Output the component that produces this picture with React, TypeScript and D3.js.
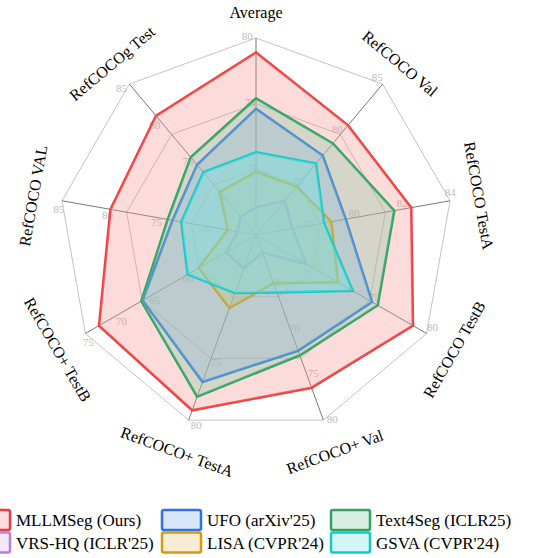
import * as d3 from 'd3'

const W = 548
const H = 558
const CX = 256
const CY = 235
const R = 197

const AXES = ['Average', 'RefCOCO Val', 'RefCOCO TestA', 'RefCOCO TestB', 'RefCOCO+ Val', 'RefCOCO+ TestA', 'RefCOCO+ TestB', 'RefCOCO VAL', 'RefCOCOg Test']
const AXIS_MIN = [65, 70, 76, 65, 60, 65, 50, 65, 65]
const AXIS_MAX = [80, 85, 84, 80, 80, 80, 75, 85, 85]
const AXIS_TICKS = [
  [70, 75, 80],
  [75, 80, 85],
  [78, 80, 82, 84],
  [70, 75, 80],
  [65, 70, 75, 80],
  [70, 75, 80],
  [55, 60, 65, 70, 75],
  [70, 75, 80, 85],
  [70, 75, 80, 85],
]

// plotting order (legend is filled column by column)
const SERIES = ['MLLMSeg (Ours)', "VRS-HQ (ICLR'25)", "UFO (arXiv'25)", "LISA (CVPR'24)", 'Text4Seg (ICLR25)', "GSVA (CVPR'24)"]
const COLORS = ['#F03C3C', '#B57FE6', '#2F74DE', '#D49A12', '#2FA362', '#15C8C8']
const FILL_ALPHA = [0.32, 0.32, 0.32, 0.32, 0.32, 0.45]

const MLLMSEG = [78.9, 80.9, 82.4, 78.8, 76.5, 79.2, 73.0, 80.0, 80.8]
const VRSHQ = [67.1, 73.4, 77.5, 69.4, 61.9, 67.7, 54.4, 66.9, 67.4]
const UFO = [74.6, 77.9, 79.7, 75.2, 72.5, 76.9, 66.6, 73.6, 74.3]
const LISA = [69.8, 74.8, 79.1, 72.2, 65.2, 70.9, 58.4, 67.9, 70.7]
const TEXT4SEG = [75.4, 79.1, 81.7, 75.7, 73.0, 78.1, 66.8, 74.1, 75.3]
const GSVA = [71.3, 77.1, 78.8, 73.5, 66.2, 69.7, 60.0, 72.7, 73.3]
const VALUES = [MLLMSEG, VRSHQ, UFO, LISA, TEXT4SEG, GSVA]

// legend rows as shown (indices into SERIES)
const LEGEND_ROWS = [[0, 2, 4], [1, 3, 5]]
const LEGEND_COL_X = [-29, 162, 331]

const FONT = '"Liberation Serif", "Times New Roman", serif'

export default function App() {
  const n = AXES.length
  const step = (2 * Math.PI) / n
  const scales = AXES.map((_, i) => d3.scaleLinear().domain([AXIS_MIN[i], AXIS_MAX[i]]).range([0, R]))
  const pastel = COLORS.map((c) => d3.interpolateRgb(c, '#ffffff')(0.42))

  const ring = d3.lineRadial<number>()
    .angle((_, i) => i * step)
    .radius((r) => r)
    .curve(d3.curveLinearClosed)

  const shape = d3.lineRadial<number>()
    .angle((_, i) => i * step)
    .radius((v, i) => scales[i](v))
    .curve(d3.curveLinearClosed)

  const pt = (a: number, r: number) => [r * Math.sin(a), -r * Math.cos(a)]

  return (
    <svg width={W} height={H} style={{ position: 'absolute', left: 0, top: 0, background: '#fff' }} fontFamily={FONT}>
      <g transform={`translate(${CX},${CY})`}>
        {/* grid rings */}
        {[1 / 3, 2 / 3, 1].map((k) => (
          <path key={k} d={ring(AXES.map(() => k * R)) ?? ''} fill="none" stroke="#c4c4c4" strokeWidth={1} />
        ))}
        {/* spokes */}
        {AXES.map((_, i) => {
          const [x, y] = pt(i * step, R)
          return <line key={i} x1={0} y1={0} x2={x} y2={y} stroke="#7a7a7a" strokeWidth={1} />
        })}
        {/* tick labels */}
        {AXES.map((_, i) =>
          AXIS_TICKS[i].map((t) => {
            const a = i * step - (2.5 * Math.PI) / 180
            const [x, y] = pt(a, scales[i](t) + 2)
            return (
              <text key={`${i}-${t}`} x={x} y={y} fontSize={11} fill="#bcbcbc" textAnchor="middle" dominantBaseline="central">
                {t}
              </text>
            )
          })
        )}
        {/* series: outline first, then its translucent fill over it */}
        {VALUES.map((vals, s) => (
          <g key={s}>
            <path d={shape(vals) ?? ''} fill="none" stroke={COLORS[s]} strokeWidth={2.6} />
            <path d={shape(vals) ?? ''} fill={pastel[s]} fillOpacity={FILL_ALPHA[s]} stroke="none" />
          </g>
        ))}
        {/* axis labels */}
        {AXES.map((label, i) => {
          const deg = (i * 360) / n
          const a = i * step
          const r = 227 - 4 * Math.cos(a)
          const [x, y] = pt(a, r)
          let rot = deg
          if (deg > 90 && deg < 270) rot = deg - 180
          else if (deg >= 270) rot = deg - 360
          return (
            <text
              key={label}
              transform={`translate(${x},${y}) rotate(${rot})`}
              fontSize={16}
              fill="#000"
              textAnchor="middle"
              dominantBaseline="central"
            >
              {label}
            </text>
          )
        })}
      </g>
      {/* legend */}
      {LEGEND_ROWS.map((row, ri) =>
        row.map((s, ci) => {
          const x = LEGEND_COL_X[ci]
          const y = 510 + ri * 22.5
          return (
            <g key={s} transform={`translate(${x},${y})`}>
              <rect x={0} y={0} width={39} height={20} rx={2} fill={COLORS[s]} fillOpacity={0.18} stroke={COLORS[s]} strokeWidth={2.5} />
              <text x={45} y={10.5} fontSize={17} fill="#000" dominantBaseline="central">
                {SERIES[s]}
              </text>
            </g>
          )
        })
      )}
    </svg>
  )
}
